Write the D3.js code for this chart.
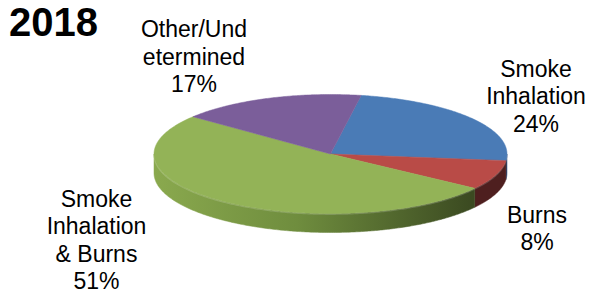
<!DOCTYPE html>
<html>
<head>
<meta charset="utf-8">
<script src="https://cdn.jsdelivr.net/npm/d3@7"></script>
<style>
  html, body { margin: 0; padding: 0; background: #fff; }
  svg { display: block; font-family: "Liberation Sans", Arial, sans-serif; }
</style>
</head>
<body>
<svg id="chart" width="592" height="295"></svg>
<script>
// ---- data ----
const title = "2018";
const categories = ["Smoke Inhalation", "Burns", "Smoke Inhalation & Burns", "Other/Undetermined"];
const values = [24, 8, 51, 17];
const labelNames = [["Smoke", "Inhalation"], ["Burns"], ["Smoke", "Inhalation", "& Burns"], ["Other/Und", "etermined"]];
const topColors = ["#4a7bb6", "#b94b47", "#93b357", "#7b5e9a"];
const sideColors = ["#2e4b72", "#4e1f1f", "green-gradient", "#4b3862"];

// ---- layout ----
const svg = d3.select("#chart");
const cx = 330.5, cy = 154, rx = 176.5, ry = 59.5, depth = 19;
const startDeg = 10;

const pie = d3.pie().sort(null)
  .startAngle(startDeg * Math.PI / 180)
  .endAngle(startDeg * Math.PI / 180 + 2 * Math.PI);
const arcs = pie(values);

const px = a => cx + rx * Math.sin(a);
const py = a => cy - ry * Math.cos(a);
const line = d3.line().x(d => d[0]).y(d => d[1]);

function samples(a0, a1) {
  const n = Math.max(2, Math.ceil(Math.abs(a1 - a0) / 0.01));
  return d3.range(n + 1).map(i => a0 + (a1 - a0) * i / n);
}

// gradient for green side
const defs = svg.append("defs");
const grad = defs.append("linearGradient").attr("id", "greenSide")
  .attr("gradientUnits", "userSpaceOnUse")
  .attr("x1", cx - rx).attr("x2", cx + rx * 0.8).attr("y1", 0).attr("y2", 0);
grad.append("stop").attr("offset", 0).attr("stop-color", "#8aa94e");
grad.append("stop").attr("offset", 0.45).attr("stop-color", "#6f8d3e");
grad.append("stop").attr("offset", 1).attr("stop-color", "#3b4a21");

const sideFill = i => sideColors[i] === "green-gradient" ? "url(#greenSide)" : sideColors[i];

// sides (front visible part: angles between PI/2 and 3PI/2, mod 2PI)
const gSide = svg.append("g");
arcs.forEach((d, i) => {
  // check both the plain range and shifted by 2PI
  [0, 2 * Math.PI, -2 * Math.PI].forEach(off => {
    const a0 = Math.max(d.startAngle + off, Math.PI / 2);
    const a1 = Math.min(d.endAngle + off, 3 * Math.PI / 2);
    if (a1 > a0) {
      const top = samples(a0, a1).map(a => [px(a), py(a)]);
      const bot = samples(a1, a0).map(a => [px(a), py(a) + depth]);
      gSide.append("path")
        .attr("d", line(top.concat(bot)) + "Z")
        .attr("fill", sideFill(i))
        .attr("stroke", sideFill(i)).attr("stroke-width", 0.5);
    }
  });
});

// subtle highlight on the front rim
svg.append("path")
  .attr("d", line(samples(Math.PI / 2, 3 * Math.PI / 2).map(a => [px(a), py(a) + 0.8])))
  .attr("fill", "none").attr("stroke", "#ffffff").attr("stroke-opacity", 0.18).attr("stroke-width", 1.2);

// top faces
const gTop = svg.append("g");
arcs.forEach((d, i) => {
  const pts = [[cx, cy]].concat(samples(d.startAngle, d.endAngle).map(a => [px(a), py(a)]));
  gTop.append("path")
    .attr("d", line(pts) + "Z")
    .attr("fill", topColors[i])
    .attr("stroke", topColors[i]).attr("stroke-width", 0.5);
});

// title
svg.append("text")
  .attr("x", 9).attr("y", 36)
  .attr("font-size", 40).attr("font-weight", "bold").attr("fill", "#000")
  .text(title);

// labels
const labelPos = [
  { x: 536, y: 76.7 },
  { x: 537, y: 222.5 },
  { x: 96.5, y: 206.7 },
  { x: 194, y: 37 }
];
const lh = 27.5;
labelNames.forEach((names, i) => {
  const lines = names.concat([values[i] + "%"]);
  const t = svg.append("text")
    .attr("text-anchor", "middle")
    .attr("font-size", 23).attr("fill", "#000");
  lines.forEach((s, j) => {
    t.append("tspan").attr("x", labelPos[i].x).attr("y", labelPos[i].y + j * lh).text(s);
  });
});
</script>
</body>
</html>
